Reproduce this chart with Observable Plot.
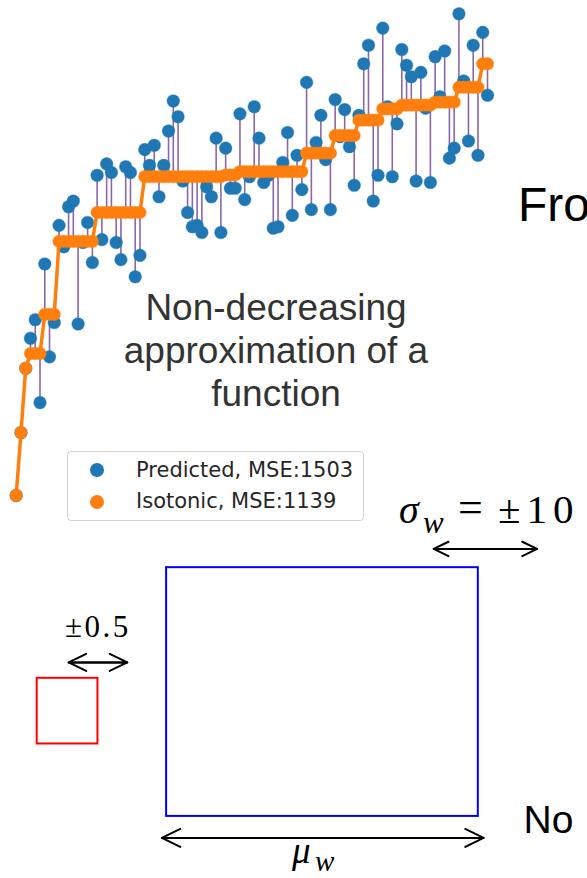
<!DOCTYPE html>
<html><head><meta charset="utf-8">
<script src="https://cdn.jsdelivr.net/npm/d3@7"></script>
<script src="https://cdn.jsdelivr.net/npm/@observablehq/plot@0.6"></script>
<style>
html,body{margin:0;padding:0;background:#fff;overflow:hidden}
#root{position:relative;width:587px;height:878px;overflow:hidden;background:#fff}
#root > svg{position:absolute;left:0}
.t{position:absolute;white-space:nowrap}
</style></head><body><div id="root"></div>
<script>
// ---- data (isotonic regression demo) ----
const predicted = [-50,-6,39,60,73,15,112,47,71,139,
  124,152,156,70,127,141,113,174,129,182,
  176,127,115,180,176,103,118,192,181,195,
  159,181,205,226,215,170,148,138,139,134,
  166,159,200,134,193,165,165,217,157,173,
  222,200,169,174,137,138,183,204,146,188,
  164,239,150,197,216,185,150,227,201,220,
  194,167,216,252,265,156,174,277,222,173,
  210,262,251,243,170,246,221,169,257,229,
  261,186,193,287,240,198,265,188,274,230];
const isotonic = [-50,-6,39,49.3,49.3,49.3,76.7,76.7,76.7,127.8,
  127.8,127.8,127.8,127.8,127.8,127.8,127.8,148,148,148,
  148,148,148,148,148,148,148,173.1,173.1,173.1,
  173.1,173.1,173.1,173.1,173.1,173.1,173.1,173.1,173.1,173.1,
  173.1,173.1,173.1,173.1,174.3,174.3,174.3,176.6,176.6,176.6,
  176.6,176.6,176.6,176.6,176.6,176.6,176.6,176.6,176.6,176.6,
  176.6,189.5,189.5,189.5,189.5,189.5,189.5,201.8,201.8,201.8,
  201.8,201.8,212.6,212.6,212.6,212.6,212.6,220.5,220.5,220.5,
  220.5,223.1,223.1,223.1,223.1,223.1,223.1,223.1,225.2,225.2,
  225.2,225.2,225.2,235.6,235.6,235.6,235.6,235.6,252,252];
const legendLabels = ["Predicted, MSE:1503", "Isotonic, MSE:1139"];
const legendColors = ["#1f77b4", "#ff7f0e"];
const captionLines = ["Non-decreasing", "approximation of a", "function"];

// diagram (units: percent of the lower panel)
const boxes = [
  {name: "wide", color: "#0000ff", x1: 28.3, x2: 81.4, y1: 21.9, y2: 84.4},
  {name: "narrow", color: "#ff0000", x1: 6.25, x2: 16.6, y1: 49.7, y2: 66.2}
];
const arrows = [
  {name: "sigma", x1: 73.8, x2: 91.4, y: 17.2, head: 12.3},
  {name: "half", x1: 11.6, x2: 21.6, y: 45.7, head: 15},
  {name: "mu", x1: 27.5, x2: 82.3, y: 89.8, head: 15.3}
];

const root = document.getElementById("root");
const rows = predicted.map((p, i) => ({i, p, q: isotonic[i]}));

const chart = Plot.plot({
  width: 587, height: 510,
  marginLeft: 15.7, marginRight: 100, marginTop: 9, marginBottom: 15,
  style: {background: "transparent", overflow: "visible"},
  x: {domain: [0, 99], axis: null},
  y: {domain: [-50, 290], axis: null},
  marks: [
    Plot.ruleX(rows, {x: "i", y1: "p", y2: "q", stroke: "#8c67a8", strokeWidth: 1.6}),
    Plot.dot(rows, {x: "i", y: "p", r: 6.3, fill: "#1f77b4", stroke: "#1f77b4", strokeOpacity: 0.35, strokeWidth: 1.2}),
    Plot.line(rows, {x: "i", y: "q", stroke: "#ff7f0e", strokeWidth: 3.5}),
    Plot.dot(rows, {x: "i", y: "q", r: 6.2, fill: "#ff7f0e", stroke: "#ff7f0e", strokeOpacity: 0.35, strokeWidth: 1.2})
  ]
});
chart.style.top = "0px";
root.appendChild(chart);

const diagram = Plot.plot({
  width: 587, height: 398,
  marginLeft: 0, marginRight: 0, marginTop: 0, marginBottom: 0,
  style: {background: "transparent", overflow: "visible"},
  x: {domain: [0, 100], range: [0, 587], axis: null},
  y: {domain: [0, 100], range: [0, 398], axis: null},
  color: {type: "identity"},
  marks: [
    Plot.rect(boxes, {x1: "x1", x2: "x2", y1: "y1", y2: "y2", stroke: "color", fill: "none", strokeWidth: 2}),
    ...arrows.flatMap(a => [
      Plot.arrow([a], {x1: "x1", x2: "x2", y1: "y", y2: "y", stroke: "#000", strokeWidth: 2, headLength: a.head, headAngle: 52}),
      Plot.arrow([a], {x1: "x2", x2: "x1", y1: "y", y2: "y", stroke: "#000", strokeWidth: 2, headLength: a.head, headAngle: 52})
    ])
  ]
});
diagram.style.top = "480px";
root.appendChild(diagram);

// ---- text helpers (positioned by baseline) ----
const metrics = {
  sans: {fam: "'Liberation Sans', Arial, sans-serif", k: 0.8465},
  serif: {fam: "'Liberation Serif', 'Times New Roman', serif", k: 0.8375},
  dejavu: {fam: "'DejaVu Sans', sans-serif", k: 0.846}
};
function label(html, {left, base, size, font, color = "#000", width, align, italic, spacing}) {
  const m = metrics[font];
  const d = document.createElement("div");
  d.className = "t";
  d.style.font = `${italic ? "italic " : ""}${size}px ${m.fam}`;
  d.style.lineHeight = size + "px";
  d.style.color = color;
  d.style.left = left + "px";
  d.style.top = (base - m.k * size) + "px";
  if (spacing) d.style.letterSpacing = spacing + "px";
  if (width) { d.style.width = width + "px"; d.style.textAlign = align || "center"; }
  d.innerHTML = html;
  root.appendChild(d);
  return d;
}

// caption in the middle of the scatter
captionLines.forEach((s, j) => {
  label(s, {left: 76, base: 320 + j * 43, size: 37, font: "sans", color: "#333", width: 400});
});

// legend
const leg = document.createElement("div");
leg.style.cssText = "position:absolute;left:67px;top:451px;width:297px;height:70px;border:1px solid #d4d4d4;border-radius:4px;background:rgba(255,255,255,0.8);box-sizing:border-box";
root.appendChild(leg);
legendLabels.forEach((s, j) => {
  const c = document.createElement("div");
  const cy = 470 + j * 31.7;
  c.style.cssText = `position:absolute;left:${96.7 - 7}px;top:${cy - 7}px;width:14px;height:14px;border-radius:50%;background:${legendColors[j]}`;
  root.appendChild(c);
  label(s, {left: 136, base: 477.3 + j * 31.7, size: 21, font: "dejavu", color: "#262626"});
});

// slide fragments
label("Fro", {left: 518, base: 221.7, size: 48, font: "sans"});
label("No", {left: 523.5, base: 832.7, size: 39, font: "sans"});

// math annotations: sigma_w = ±10
label("σ", {left: 399, base: 523, size: 40, font: "serif", italic: true});
label("w", {left: 423, base: 533, size: 31, font: "serif", italic: true});
label("=", {left: 458, base: 523, size: 44, font: "serif"});
label("±10", {left: 498, base: 523, size: 41, font: "serif", spacing: 6});
// ±0.5
label("±0.5", {left: 65, base: 636.7, size: 31, font: "serif", spacing: 2.5});
// mu_w
label("μ", {left: 292, base: 863, size: 37, font: "serif", italic: true});
label("w", {left: 315, base: 871, size: 29, font: "serif", italic: true});
</script>
</body></html>
